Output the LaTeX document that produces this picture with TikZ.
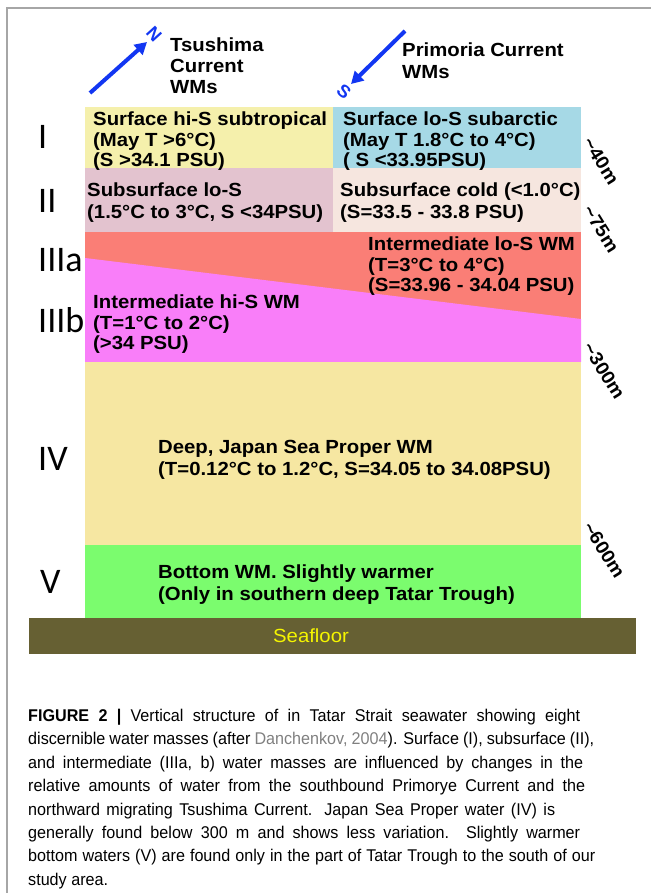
\documentclass[tikz,border=0pt]{standalone}
\usepackage{fontspec}
\setmainfont{Liberation Sans}
\newfontfamily\romfont{Carlito}
\newfontfamily\wmfont[FakeStretch=1.07]{Liberation Sans}
\newfontfamily\capfont[FakeStretch=0.95]{Liberation Sans}
\usetikzlibrary{arrows.meta}
\definecolor{cYel}{HTML}{F5F0AC}
\definecolor{cBlue}{HTML}{A6D9E6}
\definecolor{cPink}{HTML}{E3C3CF}
\definecolor{cCream}{HTML}{F6E6DF}
\definecolor{cRed}{HTML}{FA7E76}
\definecolor{cMag}{HTML}{F97EF9}
\definecolor{cDeep}{HTML}{F6E7A2}
\definecolor{cGreen}{HTML}{7BFC6E}
\definecolor{cFloor}{HTML}{666033}
\definecolor{cArrow}{HTML}{1236F2}
\definecolor{cSea}{HTML}{F5F500}
\newcommand{\capline}[2]{\makebox[#1][s]{#2}}
\tikzset{
  wm/.style={anchor=north west, inner sep=0pt, align=left, font=\wmfont\bfseries\fontsize{19}{20.5}\selectfont},
  wmwide/.style={wm, font=\wmfont\bfseries\fontsize{19}{22}\selectfont},
  rom/.style={anchor=west, inner sep=0pt, font=\romfont\fontsize{36}{36}\selectfont},
  depth/.style={inner sep=0pt, rotate=-58, font=\wmfont\bfseries\fontsize{18.5}{18.5}\selectfont},
  flow/.style={cArrow, line width=4pt, -{Triangle[length=12pt,width=13pt]}},
  dirl/.style={inner sep=0pt, text=cArrow, font=\bfseries\fontsize{18}{18}\selectfont},
}
\begin{document}
\begin{tikzpicture}[x=1pt,y=-1pt]
\useasboundingbox (0,0) rectangle (651,893);
% frame
\draw[gray!70, line width=1.2pt] (7,893) -- (7,8) -- (651,8);
% layers
\fill[cYel] (85,107) rectangle (333,168);
\fill[cBlue] (333,107) rectangle (581,168);
\fill[cPink] (85,168) rectangle (333,232);
\fill[cCream] (333,168) rectangle (581,232);
\fill[cRed] (85,232) rectangle (581,362);
\fill[cMag] (85,258) -- (581,319) -- (581,362) -- (85,362) -- cycle;
\fill[cDeep] (85,362) rectangle (581,545);
\fill[cGreen] (85,545) rectangle (581,618);
\fill[cFloor] (29,618) rectangle (636,654);
\node[inner sep=0pt, text=cSea, font=\wmfont\fontsize{19}{19}\selectfont] (sea) at (311,636) {Seafloor};
% currents
\coordinate (ts0) at (90,93);
\coordinate (ts1) at (147,42);
\draw[flow] (ts0) -- (ts1);
\node[dirl, rotate=-48] (N) at (154,34) {N};
\node[wm, font=\wmfont\bfseries\fontsize{19}{21}\selectfont] (tsu) at (170,38) {Tsushima\\Current\\WMs};
\coordinate (pr0) at (405,31);
\coordinate (pr1) at (351,84);
\draw[flow] (pr0) -- (pr1);
\node[dirl, rotate=-40] (S) at (344,92) {S};
\node[wm, font=\wmfont\bfseries\fontsize{19}{22}\selectfont] (pri) at (402,43) {Primoria Current\\WMs};
% roman numerals
\node[rom] (r1) at (38,137) {I};
\node[rom] (r2) at (38,201) {II};
\node[rom] (r3a) at (38,260) {IIIa};
\node[rom] (r3b) at (38,320) {IIIb};
\node[rom] (r4) at (38,459) {IV};
\node[rom] (r5) at (40,582) {V};
% texts
\node[wm] (t1l) at (93,112) {Surface hi-S subtropical\\(May T >6°C)\\(S >34.1 PSU)};
\node[wm] (t1r) at (343,112) {Surface lo-S subarctic\\(May T 1.8°C to 4°C)\\( S <33.95PSU)};
\node[wm, font=\wmfont\bfseries\fontsize{19}{21.5}\selectfont] (t2l) at (87,183) {Subsurface lo-S\\(1.5°C to 3°C, S <34PSU)};
\node[wm, font=\wmfont\bfseries\fontsize{19}{21.5}\selectfont] (t2r) at (340,183) {Subsurface cold (<1.0°C)\\(S=33.5 - 33.8 PSU)};
\node[wm] (t3a) at (368,237) {Intermediate lo-S WM\\(T=3°C to 4°C)\\(S=33.96 - 34.04 PSU)};
\node[wm] (t3b) at (93,295) {Intermediate hi-S WM\\(T=1°C to 2°C)\\(>34 PSU)};
\node[wmwide] (t4) at (158,440) {Deep, Japan Sea Proper WM\\(T=0.12°C to 1.2°C, S=34.05 to 34.08PSU)};
\node[wmwide] (t5) at (158,565) {Bottom WM. Slightly warmer\\(Only in southern deep Tatar Trough)};
% depths
\node[depth] (d40) at (601,161) {\textasciitilde40m};
\node[depth] (d75) at (601,229) {\textasciitilde75m};
\node[depth] (d300) at (604,371) {\textasciitilde300m};
\node[depth] (d600) at (604,550) {\textasciitilde600m};
% caption
\node[anchor=north west, inner sep=0pt, align=left, font=\capfont\fontsize{17}{23.4}\selectfont] (cap) at (28,709)
{\capline{552pt}{\textbf{FIGURE 2 |} Vertical structure of in Tatar Strait seawater showing eight}\\
\capline{566pt}{discernible water masses (after \textcolor{gray}{Danchenkov, 2004}). Surface (I), subsurface (II),}\\
\capline{555pt}{and intermediate (IIIa, b) water masses are influenced by changes in the}\\
\capline{557pt}{relative amounts of water from the southbound Primorye Current and the}\\
\capline{527pt}{northward migrating Tsushima Current. Japan Sea Proper water (IV) is}\\
\capline{552pt}{generally found below 300 m and shows less variation. Slightly warmer}\\
\capline{567pt}{bottom waters (V) are found only in the part of Tatar Trough to the south of our}\\
study area.};
\end{tikzpicture}
\end{document}
